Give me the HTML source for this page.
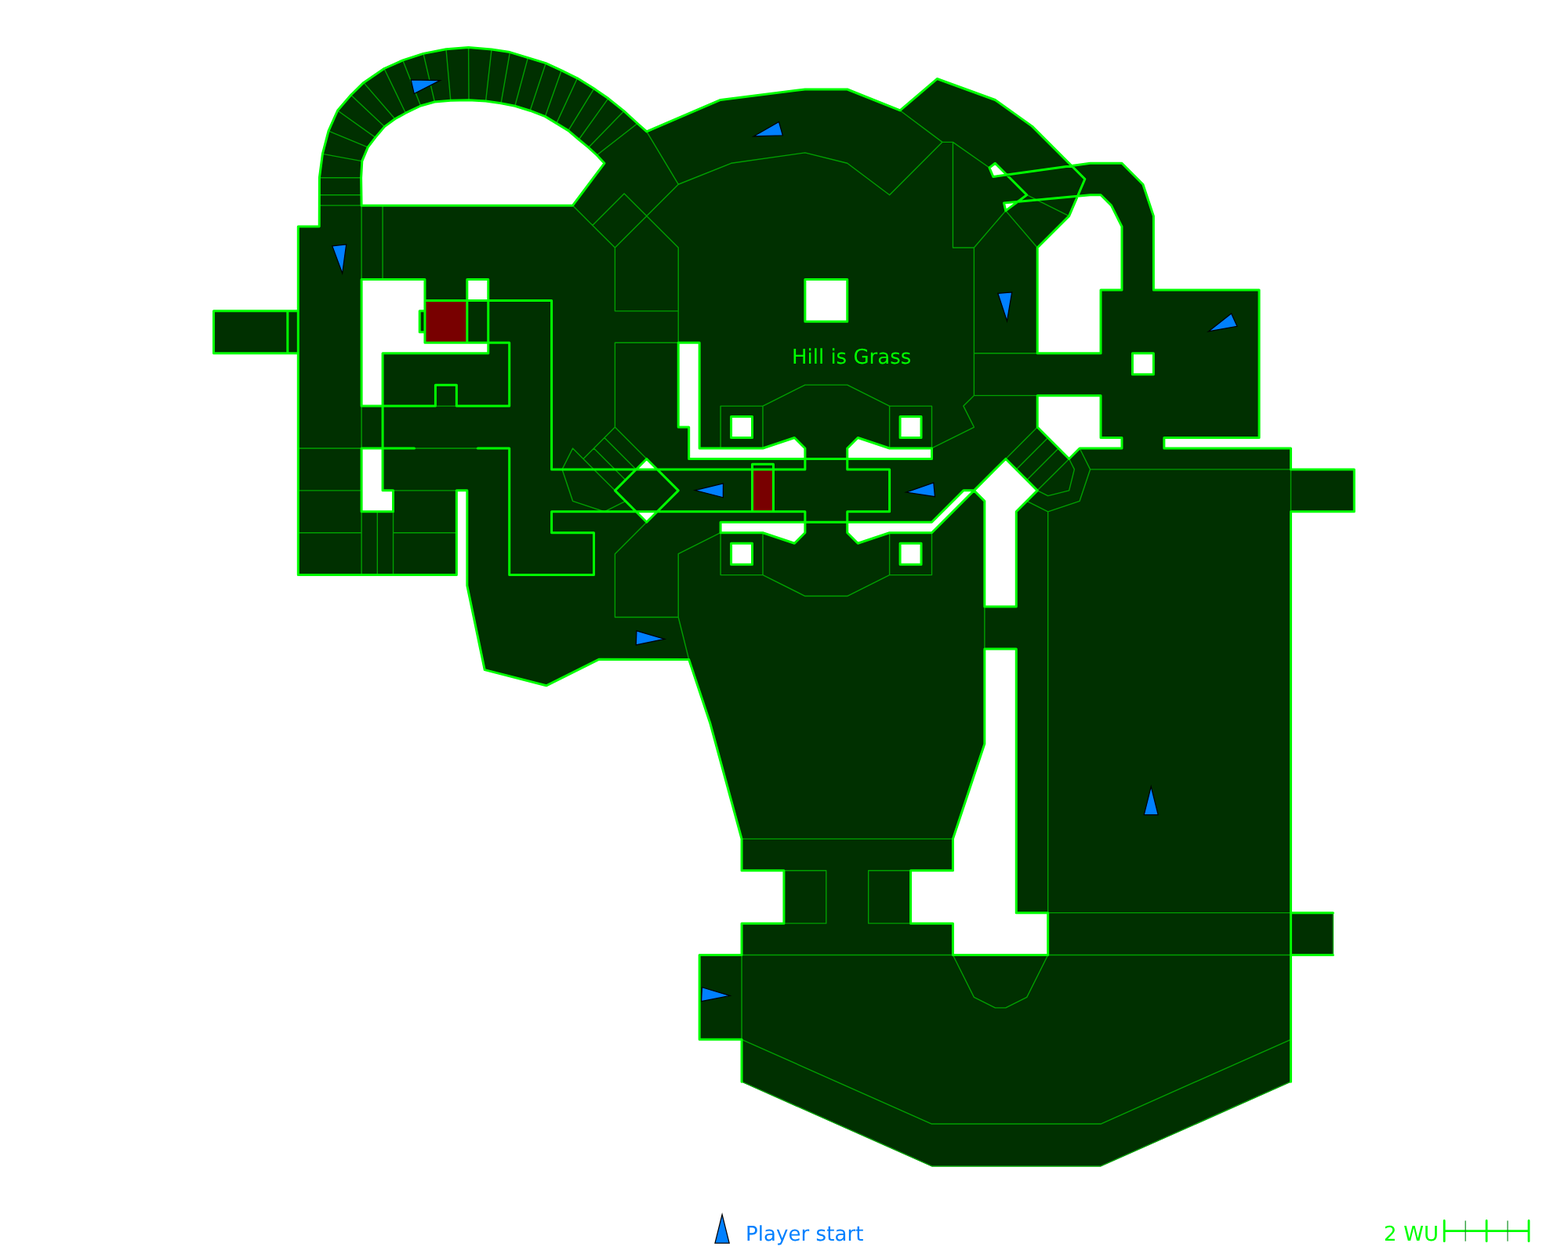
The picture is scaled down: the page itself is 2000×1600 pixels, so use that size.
<!DOCTYPE html>
<html lang="en"><head><meta charset="utf-8"><title>Hill is Grass</title>
<style>
html,body{margin:0;padding:0;background:#fff;}
body{width:2000px;height:1600px;overflow:hidden;position:relative;font-family:"DejaVu Sans","Liberation Sans",sans-serif;}
svg{position:absolute;left:0;top:0;display:block;will-change:transform;}
text{font-family:"DejaVu Sans","Liberation Sans",sans-serif;text-rendering:geometricPrecision;}
</style></head><body>
<svg width="2000" height="1600" viewBox="0 0 2000 1600">
<rect x="0" y="0" width="2000" height="1600" fill="#ffffff"/>
<path d="M272.54 396.87 L272.54 450.75 L380.3 450.75 L380.3 733.62 L582.35 733.62 L582.35 625.86 L595.82 625.86 L595.82 747.09 L618.2 854.6 L696.8 874.8 L764.3 841.2 L878.69 841.38 L905.63 922.2 L946.04 1070.37 L946.04 1110.78 L999.92 1110.78 L999.92 1178.13 L946.04 1178.13 L946.04 1218.54 L892.16 1218.54 L892.16 1326.3 L946.04 1326.3 L946.04 1380.18 L1188.5 1487.94 L1404.02 1487.94 L1646.48 1380.18 L1646.48 1218.54 L1700.36 1218.54 L1700.36 1164.66 L1646.48 1164.66 L1646.48 652.8 L1727.3 652.8 L1727.3 598.92 L1646.48 598.92 L1646.48 571.98 L1484.84 571.98 L1484.84 558.51 L1606.07 558.51 L1606.07 369.93 L1471.37 369.93 L1471.37 275.64 L1457.9 235.23 L1430.96 208.29 L1390.55 208.29 L1366.9 211.58 L1316.47 161.15 L1269.32 127.47 L1195.24 100.53 L1148.09 140.94 L1080.74 114 L1026.86 114 L919.1 127.47 L824.81 167.88 L813.1 157.5 L795.8 141.7 L775.8 125.6 L757.7 113.1 L736.4 99.8 L716.2 89.8 L696.2 80.6 L673.4 73.6 L650.4 66.6 L627 63 L597.6 60.4 L569 62.8 L540 68.4 L513.8 76.9 L490 87.5 L463.8 105.4 L447.6 121.3 L430.6 141 L419 167.2 L411.4 196.4 L407.4 226.8 L407.24 289.11 L380.3 289.11 L380.3 396.87ZM461.12 262.17 L460.6 226.8 L461.8 205.6 L469.2 187.8 L478.8 175.4 L490.4 161.6 L503.8 151.8 L517.4 144.2 L536.6 135 L554.4 130 L574.8 128.2 L598 127.8 L619.6 129 L639 131.8 L656.8 135.2 L676.1 141.2 L695.4 148.6 L709.8 157.4 L724.9 166.6 L738.3 178 L750.6 188.2 L761.3 198 L770.93 208.29 L730.52 262.17ZM461.12 356.46 L541.94 356.46 L541.94 396.87 L535.21 396.87 L535.21 423.81 L541.94 423.81 L541.94 437.28 L622.76 437.28 L622.76 450.75 L488.06 450.75 L488.06 518.1 L461.12 518.1ZM595.82 356.46 L622.76 356.46 L622.76 383.4 L595.82 383.4ZM461.12 571.98 L488.06 571.98 L488.06 625.86 L501.53 625.86 L501.53 652.8 L461.12 652.8ZM865.22 437.28 L892.16 437.28 L892.16 571.98 L972.98 571.98 L1013.39 558.51 L1026.86 571.98 L1026.86 585.45 L878.69 585.45 L878.69 545.04 L865.22 545.04ZM1080.74 571.98 L1094.21 558.51 L1134.62 571.98 L1188.5 571.98 L1188.5 585.45 L1080.74 585.45ZM919.1 666.27 L1026.86 666.27 L1026.86 679.74 L1013.39 693.21 L972.98 679.74 L919.1 679.74ZM1080.74 666.27 L1188.5 666.27 L1228.91 625.86 L1242.38 625.86 L1282.79 585.45 L1323.2 625.86 L1296.26 652.8 L1296.26 774.03 L1255.85 774.03 L1255.85 639.33 L1242.38 625.86 L1188.5 679.74 L1134.62 679.74 L1094.21 693.21 L1080.74 679.74ZM1323.2 316.05 L1323.2 450.75 L1404.02 450.75 L1404.02 369.93 L1430.96 369.93 L1430.96 289.11 L1417.49 262.17 L1404.02 248.7 L1390.55 248.7 L1374.52 250.2 L1363.61 275.64ZM1323.2 504.63 L1404.02 504.63 L1404.02 558.51 L1430.96 558.51 L1430.96 571.98 L1377.08 571.98 L1363.61 585.45 L1323.2 545.04ZM1444.43 450.75 L1471.37 450.75 L1471.37 477.69 L1444.43 477.69ZM1255.85 827.91 L1296.26 827.91 L1296.26 1164.66 L1336.67 1164.66 L1336.67 1218.54 L1215.44 1218.54 L1215.44 1178.13 L1161.56 1178.13 L1161.56 1110.78 L1215.44 1110.78 L1215.44 1070.37 L1255.85 949.14ZM1026.86 356.46 L1080.74 356.46 L1080.74 410.34 L1026.86 410.34ZM932.57 531.57 L959.51 531.57 L959.51 558.51 L932.57 558.51ZM1148.09 531.57 L1175.03 531.57 L1175.03 558.51 L1148.09 558.51ZM932.57 693.21 L959.51 693.21 L959.51 720.15 L932.57 720.15ZM1148.09 693.21 L1175.03 693.21 L1175.03 720.15 L1148.09 720.15ZM824.81 585.45 L838.28 598.92 L811.34 598.92ZM811.34 652.8 L838.28 652.8 L824.81 666.27ZM1262 214 L1269.32 208.29 L1284.12 223.09 L1266.8 225.5ZM1280.5 259 L1298.21 257.34 L1282.79 268.91Z" fill="#003000" fill-rule="evenodd"/>
<path d="M541.94 383.4 L595.82 383.4 L595.82 437.28 L541.94 437.28Z" fill="#780000"/>
<path d="M959.51 598.92 L986.45 598.92 L986.45 652.8 L959.51 652.8Z" fill="#780000"/>
<g fill="none" stroke="#00a000" stroke-width="1.39" stroke-linecap="round" stroke-linejoin="round">
<path d="M407.4 226.8 L460.6 226.8M411.4 196.4 L461.8 205.6M419 167.2 L469.2 187.8M430.6 141 L478.8 175.4M447.6 121.3 L490.4 161.6M463.8 105.4 L503.8 151.8M490 87.5 L517.4 144.2M513.8 76.9 L536.6 135M540 68.4 L554.4 130M569 62.8 L574.8 128.2M597.6 60.4 L598 127.8M627 63 L619.6 129M650.4 66.6 L639 131.8M673.4 73.6 L656.8 135.2M696.2 80.6 L676.1 141.2M716.2 89.8 L695.4 148.6M736.4 99.8 L709.8 157.4M757.7 113.1 L724.9 166.6M775.8 125.6 L738.3 178M795.8 141.7 L750.6 188.2M813.1 157.5 L761.3 198M407.24 248.7 L461.12 248.7M407.24 262.17 L461.12 262.17M461.12 262.17 L461.12 356.46M488.06 262.17 L488.06 356.46M380.3 571.98 L461.12 571.98M380.3 625.86 L461.12 625.86M380.3 679.74 L461.12 679.74M461.12 518.1 L461.12 571.98M461.12 652.8 L461.12 733.62M481.33 652.8 L481.33 733.62M501.53 652.8 L501.53 733.62M501.53 625.86 L582.35 625.86M501.53 679.74 L582.35 679.74M555.41 518.1 L582.35 518.1M528.47 571.98 L609.29 571.98M824.81 167.88 L865.22 235.23 L932.57 208.29 L1026.86 194.82 L1080.74 208.29 L1134.62 248.7 L1201.97 181.35M1148.09 140.94 L1201.97 181.35 L1215.44 181.35 L1262 214M730.52 262.17 L784.4 316.05 L865.22 235.23M755.78 287.43 L796.19 247.02 L865.22 316.05M784.4 316.05 L784.4 396.87 L865.22 396.87M865.22 316.05 L865.22 437.28M784.4 545.04 L784.4 437.28 L865.22 437.28M1215.44 181.35 L1215.44 316.05 L1242.38 316.05 L1282.79 268.91 L1323.2 316.05M1309.73 248.7 L1363.61 275.64M1242.38 316.05 L1242.38 504.63 L1228.91 518.1 L1242.38 545.04 L1188.5 571.98M1242.38 450.75 L1323.2 450.75M1242.38 504.63 L1323.2 504.63M784.4 545.04 L824.81 585.45M770.93 558.51 L811.34 598.92M757.46 571.98 L797.87 612.39M743.99 585.45 L784.4 625.86M784.4 545.04 L743.99 585.45M743.99 585.45 L730.52 571.98 L717.05 598.92 L730.52 639.33 L770.93 652.8 L797.87 639.33M919.1 571.98 L919.1 518.1 L972.98 518.1 L972.98 571.98M972.98 518.1 L1026.86 491.16 L1080.74 491.16 L1134.62 518.1M1134.62 571.98 L1134.62 518.1 L1188.5 518.1 L1188.5 571.98M919.1 679.74 L919.1 733.62 L972.98 733.62 L972.98 679.74M972.98 733.62 L1026.86 760.56 L1080.74 760.56 L1134.62 733.62M1134.62 679.74 L1134.62 733.62 L1188.5 733.62 L1188.5 679.74M824.81 666.27 L784.4 706.68 L784.4 787.5 L865.22 787.5 L865.22 706.68 L919.1 679.74M865.22 787.5 L878.69 841.38M1323.2 545.04 L1282.79 585.45M1336.67 558.51 L1296.26 598.92M1350.14 571.98 L1309.73 612.39M1363.61 585.45 L1323.2 625.86M1363.61 585.45 L1370.35 598.92 L1363.61 625.86 L1336.67 632.6 L1323.2 625.86M1377.08 571.98 L1390.55 598.92 L1377.08 639.33 L1336.67 652.8 L1309.73 639.33M1390.55 598.92 L1646.48 598.92M1646.48 598.92 L1646.48 652.8M1336.67 652.8 L1336.67 1164.66M1255.85 774.03 L1255.85 827.91M1336.67 1164.66 L1646.48 1164.66M1336.67 1218.54 L1646.48 1218.54M1700.36 1164.66 L1700.36 1218.54M946.04 1070.37 L1215.44 1070.37M999.92 1110.78 L1053.8 1110.78 L1053.8 1178.13 L999.92 1178.13M1161.56 1110.78 L1107.68 1110.78 L1107.68 1178.13 L1161.56 1178.13M946.04 1218.54 L1215.44 1218.54M946.04 1218.54 L946.04 1326.3M1215.44 1218.54 L1242.38 1272.42 L1269.32 1285.89 L1282.79 1285.89 L1309.73 1272.42 L1336.67 1218.54M946.04 1326.3 L1188.5 1434.06 L1404.02 1434.06 L1646.48 1326.3M946.04 1380.18 L1188.5 1487.94 L1404.02 1487.94 L1646.48 1380.18"/>
</g>
<g fill="none" stroke="#00ff00" stroke-width="3.0" stroke-linecap="round" stroke-linejoin="round">
<path d="M946.04 1380.18 L946.04 1326.3 L892.16 1326.3 L892.16 1218.54 L946.04 1218.54 L946.04 1178.13 L999.92 1178.13 L999.92 1110.78 L946.04 1110.78 L946.04 1070.37 L905.63 922.2 L878.69 841.38 L764.3 841.2 L696.8 874.8 L618.2 854.6 L595.82 747.09 L595.82 625.86 L582.35 625.86 L582.35 733.62 L380.3 733.62 L380.3 289.11 L407.24 289.11 L407.4 226.8 L411.4 196.4 L419 167.2 L430.6 141 L447.6 121.3 L463.8 105.4 L490 87.5 L513.8 76.9 L540 68.4 L569 62.8 L597.6 60.4 L627 63 L650.4 66.6 L673.4 73.6 L696.2 80.6 L716.2 89.8 L736.4 99.8 L757.7 113.1 L775.8 125.6 L795.8 141.7 L813.1 157.5 L824.81 167.88 L919.1 127.47 L1026.86 114 L1080.74 114 L1148.09 140.94 L1195.24 100.53 L1269.32 127.47 L1316.47 161.15 L1383.82 228.5 L1363.61 275.64 L1323.2 316.05 L1323.2 450.75 L1404.02 450.75 L1404.02 369.93 L1430.96 369.93 L1430.96 289.11 L1417.49 262.17 L1404.02 248.7 L1390.55 248.7 L1280.5 259 L1282.79 268.91 L1309.73 248.7 L1269.32 208.29 L1262 214 L1266.8 225.5 L1390.55 208.29 L1430.96 208.29 L1457.9 235.23 L1471.37 275.64 L1471.37 369.93 L1606.07 369.93 L1606.07 558.51 L1484.84 558.51 L1484.84 571.98 L1646.48 571.98 L1646.48 598.92 L1727.3 598.92 L1727.3 652.8 L1646.48 652.8 L1646.48 1380.18M380.3 396.87 L272.54 396.87 L272.54 450.75 L380.3 450.75M366.83 396.87 L366.83 450.75M1646.48 1164.66 L1700.36 1164.66M1646.48 1218.54 L1700.36 1218.54M461.12 262.17 L460.6 226.8 L461.8 205.6 L469.2 187.8 L478.8 175.4 L490.4 161.6 L503.8 151.8 L517.4 144.2 L536.6 135 L554.4 130 L574.8 128.2 L598 127.8 L619.6 129 L639 131.8 L656.8 135.2 L676.1 141.2 L695.4 148.6 L709.8 157.4 L724.9 166.6 L738.3 178 L750.6 188.2 L761.3 198 L770.93 208.29 L730.52 262.17 L461.12 262.17M461.12 356.46 L541.94 356.46 L541.94 396.87 L535.21 396.87 L535.21 423.81 L541.94 423.81 L541.94 437.28 L622.76 437.28 L622.76 450.75 L488.06 450.75 L488.06 518.1 L461.12 518.1 L461.12 356.46M595.82 356.46 L622.76 356.46 L622.76 383.4 L595.82 383.4 L595.82 356.46M461.12 571.98 L488.06 571.98 L488.06 625.86 L501.53 625.86 L501.53 652.8 L461.12 652.8 L461.12 571.98M865.22 437.28 L892.16 437.28 L892.16 571.98 L972.98 571.98 L1013.39 558.51 L1026.86 571.98 L1026.86 585.45 L878.69 585.45 L878.69 545.04 L865.22 545.04 L865.22 437.28M1080.74 571.98 L1094.21 558.51 L1134.62 571.98 L1188.5 571.98 L1188.5 585.45 L1080.74 585.45 L1080.74 571.98M919.1 666.27 L1026.86 666.27 L1026.86 679.74 L1013.39 693.21 L972.98 679.74 L919.1 679.74 L919.1 666.27M1080.74 666.27 L1188.5 666.27 L1228.91 625.86 L1242.38 625.86 L1282.79 585.45 L1323.2 625.86 L1296.26 652.8 L1296.26 774.03 L1255.85 774.03 L1255.85 639.33 L1242.38 625.86 L1188.5 679.74 L1134.62 679.74 L1094.21 693.21 L1080.74 679.74 L1080.74 666.27M1323.2 504.63 L1404.02 504.63 L1404.02 558.51 L1430.96 558.51 L1430.96 571.98 L1377.08 571.98 L1363.61 585.45 L1323.2 545.04 L1323.2 504.63M1444.43 450.75 L1471.37 450.75 L1471.37 477.69 L1444.43 477.69 L1444.43 450.75M1255.85 827.91 L1296.26 827.91 L1296.26 1164.66 L1336.67 1164.66 L1336.67 1218.54 L1215.44 1218.54 L1215.44 1178.13 L1161.56 1178.13 L1161.56 1110.78 L1215.44 1110.78 L1215.44 1070.37 L1255.85 949.14 L1255.85 827.91M1026.86 356.46 L1080.74 356.46 L1080.74 410.34 L1026.86 410.34 L1026.86 356.46M932.57 531.57 L959.51 531.57 L959.51 558.51 L932.57 558.51 L932.57 531.57M1148.09 531.57 L1175.03 531.57 L1175.03 558.51 L1148.09 558.51 L1148.09 531.57M932.57 693.21 L959.51 693.21 L959.51 720.15 L932.57 720.15 L932.57 693.21M1148.09 693.21 L1175.03 693.21 L1175.03 720.15 L1148.09 720.15 L1148.09 693.21M784.4 625.86 L824.81 585.45 L865.22 625.86 L824.81 666.27 L784.4 625.86M541.94 396.87 L541.94 423.81M541.94 383.4 L703.58 383.4 L703.58 598.92 L1026.86 598.92 L1026.86 585.45M595.82 383.4 L595.82 437.28M622.76 383.4 L622.76 437.28M622.76 437.28 L649.7 437.28 L649.7 518.1 L582.35 518.1 L582.35 491.16 L555.41 491.16 L555.41 518.1 L488.06 518.1 L488.06 571.98M488.06 571.98 L528.47 571.98M609.29 571.98 L649.7 571.98 L649.7 733.62 L757.46 733.62 L757.46 679.74 L703.58 679.74 L703.58 652.8 L1026.86 652.8 L1026.86 666.27M1026.86 585.45 L1080.74 585.45M1026.86 666.27 L1080.74 666.27M1080.74 585.45 L1080.74 598.92 L1134.62 598.92 L1134.62 652.8 L1080.74 652.8 L1080.74 666.27M959.51 652.8 L959.51 592.19 L986.45 592.19 L986.45 652.8"/>
</g>
<g fill="#0080ff" stroke="#000000" stroke-width="1.25" stroke-linejoin="miter" stroke-miterlimit="20">
<path d="M561.37 102.61 L528.23 119.52 L524.17 101.98Z"/>
<path d="M961.17 173.94 L993.45 155.44 L998.35 172.76Z"/>
<path d="M436.67 348.76 L423.8 313.85 L441.7 311.9Z"/>
<path d="M1284.47 409.62 L1272.78 374.3 L1290.72 372.95Z"/>
<path d="M1541.34 422.96 L1570.55 399.92 L1577.95 416.33Z"/>
<path d="M886.3 625.6 L922.45 616.8 L922.35 634.8Z"/>
<path d="M1155.68 628.08 L1190.79 615.79 L1192.46 633.71Z"/>
<path d="M847.67 815.32 L811.25 822.89 L811.95 804.91Z"/>
<path d="M1468.2 1003.6 L1477.2 1039.7 L1459.2 1039.7Z"/>
<path d="M931.06 1270.45 L894.56 1277.69 L895.44 1259.71Z"/>
</g>
<text x="1009.9" y="464" font-size="26" fill="#00ff00">Hill is Grass</text>
<path d="M921.1 1549.6 L930.2 1586.1 L912 1586.1Z" fill="#0080ff" stroke="#000000" stroke-width="1.25" stroke-miterlimit="20"/>
<text x="950.9" y="1583" font-size="26" letter-spacing="0.07" fill="#0080ff">Player start</text>
<text x="1765" y="1583" font-size="26" letter-spacing="0.2" fill="#00ff00">2 WU</text>
<g fill="none" stroke="#00ff00" stroke-width="2.8" stroke-linecap="round">
<path d="M1842.2 1570.6 L1950 1570.6 M1842.2 1557.5 L1842.2 1583.7 M1896.1 1557.5 L1896.1 1583.7 M1950 1557.5 L1950 1583.7"/>
</g>
<g fill="none" stroke="#109020" stroke-width="1.2" stroke-linecap="butt">
<path d="M1869.2 1557.5 L1869.2 1583.7 M1923 1557.5 L1923 1583.7"/>
</g>
</svg>
</body></html>
